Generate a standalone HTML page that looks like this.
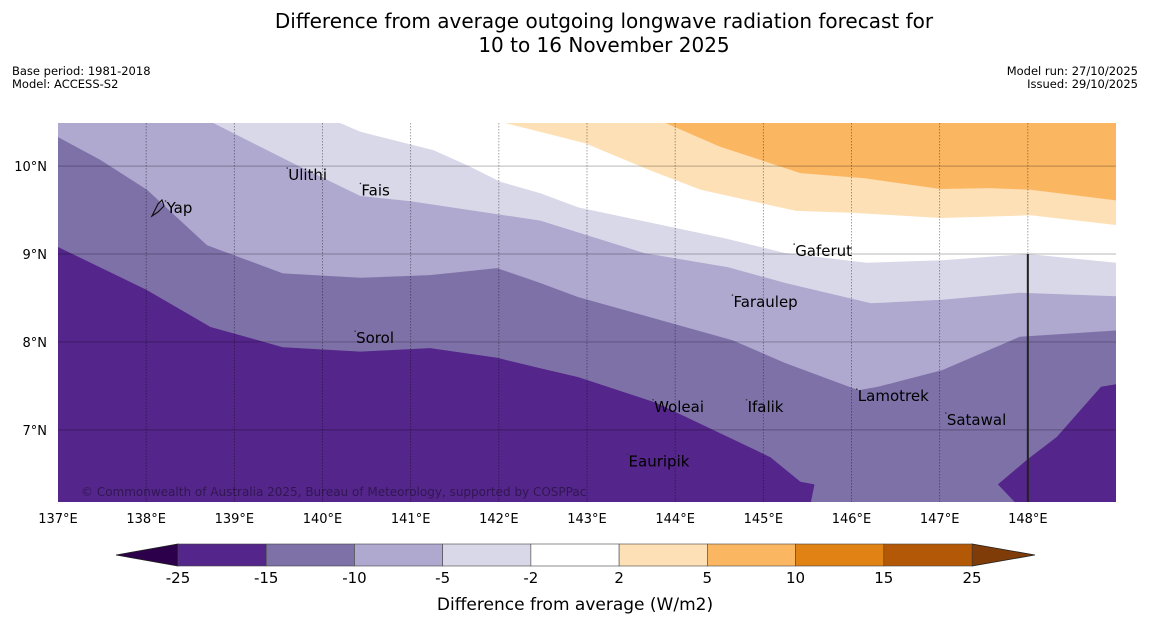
<!DOCTYPE html>
<html><head><meta charset="utf-8">
<style>
body{margin:0;background:#fff;width:1150px;height:644px;overflow:hidden;font-family:"DejaVu Sans","Liberation Sans",sans-serif;}
svg{display:block}
</style></head>
<body>
<svg id="chart" width="1150" height="644" xmlns="http://www.w3.org/2000/svg">
<text x="604" y="28" font-size="20" text-anchor="middle">Difference from average outgoing longwave radiation forecast for</text>
<text x="604" y="52" font-size="20" text-anchor="middle">10 to 16 November 2025</text>
<text x="12" y="75" font-size="11.5">Base period: 1981-2018</text>
<text x="12" y="88" font-size="11.5">Model: ACCESS-S2</text>
<text x="1138" y="75" font-size="11.5" text-anchor="end">Model run: 27/10/2025</text>
<text x="1138" y="88" font-size="11.5" text-anchor="end">Issued: 29/10/2025</text>
<g id="map"></g>
<g id="cbar"></g>
</svg>
<script>
// ---- map data: contour boundaries (lon, lat) ----
const lonTicks = [137,138,139,140,141,142,143,144,145,146,147,148];
const latTicks = [7,8,9,10];
const levels = [-25,-15,-10,-5,-2,2,5,10,15,25];
const levelColors = ["#54258a","#7e71a8","#afa8cf","#d8d8e8","#ffffff","#fde0b5","#fbb662","#e08214","#b35806"];
// boundary -15 (west dark region top edge)
const b15Lon = [137,138.01,138.73,139.55,140.43,141.22,141.98,142.47,142.90,143.78,145.08,145.42,145.58,145.54];
const b15Lat = [9.08,8.59,8.17,7.94,7.89,7.93,7.82,7.70,7.60,7.31,6.69,6.41,6.38,6.18];
// east dark region edge
const blobLon = [147.85,147.66,147.99,148.33,148.83,149.0];
const blobLat = [6.18,6.38,6.66,6.92,7.49,7.52];
// boundary -10
const b10Lon = [137,137.48,138.01,138.69,139.55,140.43,141.22,141.98,142.47,142.90,144.65,145.25,146.08,146.30,147.03,147.91,149.0];
const b10Lat = [10.33,10.07,9.73,9.10,8.78,8.73,8.76,8.84,8.67,8.51,8.02,7.76,7.45,7.49,7.68,8.06,8.13];
// boundary -5
const b5Lon = [138.76,139.75,140.43,141.0,142.47,143.65,144.60,145.25,146.22,147.03,147.91,149.0];
const b5Lat = [10.49,9.99,9.66,9.60,9.38,9.01,8.85,8.67,8.44,8.48,8.56,8.52];
// boundary -2
const b2nLon = [140.2,140.43,141.26,141.64,142.02,142.47,142.90,144.56,145.25,146.17,147.03,148.0,149.0];
const b2nLat = [10.49,10.39,10.18,10.01,9.82,9.69,9.53,9.18,9.01,8.90,8.93,9.0,8.90];
// boundary +2
const b2pLon = [142.07,142.98,143.72,144.29,145.37,146.0,147.01,148.03,149.0];
const b2pLat = [10.49,10.26,9.95,9.73,9.49,9.47,9.41,9.44,9.33];
// boundary +5
const b5pLon = [143.89,144.51,145.42,146.16,147.01,147.58,148.03,149.0];
const b5pLat = [10.49,10.22,9.92,9.86,9.74,9.75,9.73,9.61];
const places = ["Yap","Ulithi","Fais","Gaferut","Faraulep","Sorol","Lamotrek","Woleai","Ifalik","Satawal","Eauripik"];
const placeLon = [138.22,139.6,140.43,145.35,144.65,140.37,146.06,143.75,144.81,147.07,143.46];
const placeLat = [9.58,9.955,9.78,9.09,8.51,8.10,7.44,7.32,7.32,7.17,6.70];

const NS="http://www.w3.org/2000/svg";
const X0=58,X1=1116,Y0=123,Y1=502,LON0=137,LON1=149.0,LATTOP=10.49,LATBOT=6.18;
const xs=l=>X0+(l-LON0)*(X1-X0)/(LON1-LON0);
const ys=l=>Y0+(LATTOP-l)*(Y1-Y0)/(LATTOP-LATBOT);
const map=document.getElementById('map');
function mk(tag,attrs,parent){const e=document.createElementNS(NS,tag);for(const k in attrs)e.setAttribute(k,attrs[k]);parent.appendChild(e);return e;}
function pts(lons,lats){return lons.map((l,i)=>xs(l).toFixed(1)+','+ys(lats[i]).toFixed(1));}
const clip=mk('clipPath',{id:'mc'},mk('defs',{},map));mk('rect',{x:X0,y:Y0,width:X1-X0,height:Y1-Y0},clip);
const g=mk('g',{'clip-path':'url(#mc)'},map);
let bg=mk('rect',{x:X0,y:Y0,width:X1-X0,height:Y1-Y0,fill:levelColors[1]},g);


let p=mk('polygon',{points:pts(b15Lon,b15Lat).concat([xs(137)+','+ys(LATBOT)]).join(' '),fill:levelColors[0]},g);


p=mk('polygon',{points:pts(blobLon,blobLat).concat([xs(149)+','+ys(LATBOT)]).join(' '),fill:levelColors[0]},g);


const tops=[[b10Lon,b10Lat,2,'band-minus10-to-minus5',true],[b5Lon,b5Lat,3,'band-minus5-to-minus2',false],[b2nLon,b2nLat,4,'band-minus2-to-2',false],[b2pLon,b2pLat,5,'band-2-to-5',false],[b5pLon,b5pLat,6,'band-5-to-10',false]];
tops.forEach(t=>{
  let pp=pts(t[0],t[1]).concat([xs(149)+','+ys(LATTOP)]);
  if(t[4]) pp.push(xs(137)+','+ys(LATTOP));
  const e=mk('polygon',{points:pp.join(' '),fill:levelColors[t[2]]},g);
  
  
});
latTicks.forEach(l=>{
  const e=mk('line',{x1:X0,x2:X1,y1:ys(l),y2:ys(l),stroke:'rgba(0,0,0,0.22)','stroke-width':1.2},g);
  
  
  const t=mk('text',{x:47,y:ys(l)+5,'font-size':13,'text-anchor':'end'},map);t.textContent=l+'°N';
  
  
});
lonTicks.forEach(l=>{
  if(l>137){const e=mk('line',{x1:xs(l),x2:xs(l),y1:Y0,y2:Y1,stroke:'rgba(0,0,0,0.45)','stroke-width':0.8,'stroke-dasharray':'1.5,1.5'},g);
  
  }
  const t=mk('text',{x:xs(l),y:523,'font-size':13,'text-anchor':'middle'},map);t.textContent=l+'°E';
  
  
});
let bl=mk('line',{x1:xs(148),x2:xs(148),y1:ys(9),y2:Y1,stroke:'#222','stroke-width':2},g);


places.forEach((n,i)=>{
  const x=xs(placeLon[i]),y=ys(placeLat[i]);
  const d=mk('circle',{cx:x,cy:y-2,r:0.8,fill:'#333'},g);
  
  
  const t=mk('text',{x:x+1,y:y+10,'font-size':15},g);t.textContent=n;
  
  
});
let yi=mk('path',{d:'M152,216 L158,204 L162,200 L164,206 L158,212 Z',fill:'none',stroke:'#111','stroke-width':1.2},g);


let cp=mk('text',{x:81,y:496,'font-size':12,fill:'rgba(0,0,0,0.4)'},g);cp.textContent='© Commonwealth of Australia 2025, Bureau of Meteorology, supported by COSPPac';


const cb=document.getElementById('cbar');
const CX0=178,CX1=972,CY0=544,CY1=566,n=levelColors.length,w=(CX1-CX0)/n;
let la=mk('polygon',{points:`116,555 ${CX0},${CY0} ${CX0},${CY1}`,fill:'#2d004b',stroke:'#222','stroke-width':0.8},cb);


let ra=mk('polygon',{points:`1035,555 ${CX1},${CY0} ${CX1},${CY1}`,fill:'#7f3b08',stroke:'#222','stroke-width':0.8},cb);


levelColors.forEach((c,i)=>{
  const r=mk('rect',{x:CX0+i*w,y:CY0,width:w,height:CY1-CY0,fill:c,stroke:'#444','stroke-width':0.6},cb);
  
  
});
levels.forEach((v,i)=>{
  const t=mk('text',{x:CX0+i*w,y:583,'font-size':15,'text-anchor':'middle'},cb);t.textContent=v;
  
  
});
let ct=mk('text',{x:575,y:610,'font-size':17,'text-anchor':'middle'},cb);ct.textContent='Difference from average (W/m2)';


</script>
</body></html>
